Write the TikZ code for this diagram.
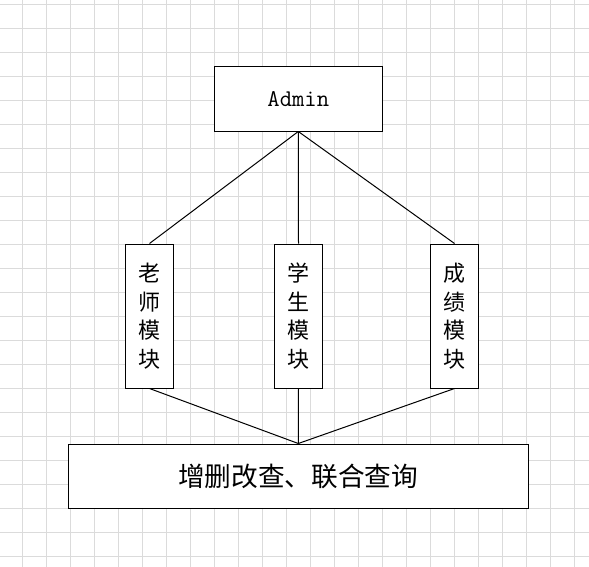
\documentclass[tikz,border=0pt]{standalone}
\usepackage{fontspec}
\newfontfamily\cjk{Noto Sans CJK SC}
\begin{document}
\begin{tikzpicture}[x=0.75pt,y=-0.75pt,
  gridline/.style={draw=gray!28,line width=0.75pt},
  box/.style={draw=black,fill=white,line width=0.75pt,inner sep=0pt,anchor=center},
  modbox/.style={box,minimum width=35.6pt,minimum height=108pt,align=center,
    font={\cjk\fontsize{16.5}{21.4}\selectfont}},
  link/.style={line width=0.75pt}]
  \useasboundingbox (0,0) rectangle (589,567);
  \fill[white] (0,0) rectangle (589,567);
  \foreach \i in {0,...,24}
    \draw[gridline] ({22.3+24*\i},0) -- ++(0,567);
  \foreach \j in {0,...,23}
    \draw[gridline] (0,{4.3+24*\j}) -- ++(589,0);

  \node[box,minimum width=126pt,minimum height=48pt,
    font={\ttfamily\fontsize{18}{20}\selectfont}] (admin) at (298.3,99) {Admin};
  \node[modbox] (teacher) at (149.5,316) {老\\师\\模\\块};
  \node[modbox] (student) at (298.5,316) {学\\生\\模\\块};
  \node[modbox] (score) at (454.5,316) {成\\绩\\模\\块};
  \node[box,minimum width=345pt,minimum height=48pt,
    font={\cjk\fontsize{20}{24}\selectfont}] (crud) at (298.3,476) {增删改查、联合查询};

  \draw[link] (admin.south) -- (teacher.north);
  \draw[link] (admin.south) -- (student.north);
  \draw[link] (admin.south) -- (score.north);
  \draw[link] (teacher.south) -- (crud.north);
  \draw[link] (student.south) -- (crud.north);
  \draw[link] (score.south) -- (crud.north);
\end{tikzpicture}
\end{document}
